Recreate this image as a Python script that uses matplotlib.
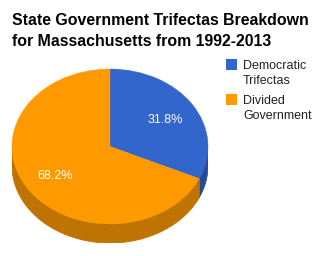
import numpy as np
import matplotlib
matplotlib.use("Agg")
import matplotlib.pyplot as plt
from matplotlib.patches import Rectangle

plt.rcParams['font.family'] = ['Liberation Sans', 'DejaVu Sans']

labels = [['Democratic', 'Trifectas'], ['Divided', 'Government']]
values = [31.8, 68.2]
colors = ['#3366cc', '#ff9900']
side_colors = ['#264c99', '#bf7300']
title = ['State Government Trifectas Breakdown', 'for Massachusetts from 1992-2013']

W, H = 323, 256
fig = plt.figure(figsize=(W / 100, H / 100), dpi=100)
fig.patch.set_facecolor('white')

# pie box in pixels: left, right, top of ellipse, bottom of side
px_l, px_r, px_t, px_b = 12, 208, 69, 243
ry_px = 77.5
depth = 19 / ry_px

ax = fig.add_axes([px_l / W, (H - px_b) / H, (px_r - px_l) / W, (px_b - px_t) / H])

# side of the 3d pie: visible lower half of the rim
fr = np.array(values) / sum(values)
start = 90.0
for f, c in zip(fr, side_colors):
    a0, a1 = start - f * 360, start
    start = a0
    angs = np.linspace(a0, a1, 400)
    angs_n = (angs + 180) % 360 - 180
    vis = angs[(angs_n < 0)]
    if len(vis) == 0:
        continue
    t = np.radians(np.sort(vis))
    xs = np.cos(t)
    ys = np.sin(t)
    px = np.concatenate([xs, xs[::-1]])
    py = np.concatenate([ys, ys[::-1] - depth])
    ax.fill(px, py, color=c, lw=0.6, ec=c, zorder=1)

wedges, texts, autotexts = ax.pie(values, colors=colors, startangle=90, counterclock=False,
                                  autopct='%1.1f%%', pctdistance=0.67,
                                  wedgeprops=dict(lw=0.3, ec='none'),
                                  textprops=dict(color='white', fontsize=9))
for w in wedges:
    w.set_zorder(2)
    w.set_edgecolor(w.get_facecolor())
for t in autotexts:
    t.set_zorder(3)
    t.set_va('center_baseline')

ax.set_aspect('auto')
ax.set_xlim(-1, 1)
ax.set_ylim(-1 - depth, 1)
ax.axis('off')

for line, yb in zip(title, [25, 46.5]):
    fig.text(12 / W, 1 - yb / H, line, fontsize=11.4, fontweight='bold', color='black',
             ha='left', va='baseline')

# legend
ly = [64, 99]
for lab, c, y in zip(labels, colors, ly):
    fig.patches.append(Rectangle((226 / W, 1 - (y + 5.5) / H), 11 / W, 11 / H,
                                 transform=fig.transFigure, fc=c, ec='none'))
    for k, line in enumerate(lab):
        fig.text(243 / W, 1 - (y + 5 + 15 * k) / H, line, fontsize=9, color='#222222',
                 ha='left', va='baseline')

fig.savefig('out.png', dpi=100)
